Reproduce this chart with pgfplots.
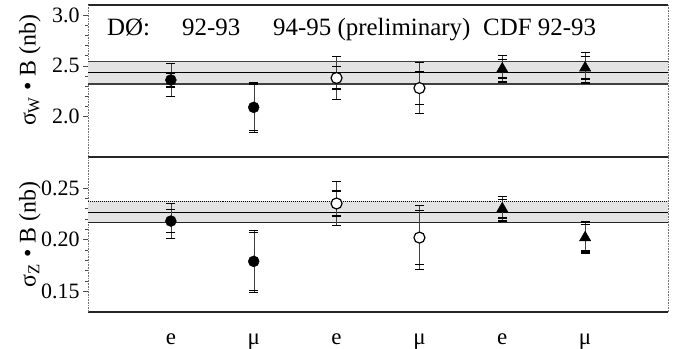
\documentclass[border=0pt]{standalone}
\usepackage{pgfplots}
\pgfplotsset{compat=1.18}
\usepackage{fontspec}
\setmainfont{Liberation Serif}
\begin{document}
\begin{tikzpicture}
\useasboundingbox (0bp,0bp) rectangle (686bp,-349bp);
\pgfplotsset{
  panel/.style={
    scale only axis, width=580bp, xmin=0, xmax=7,
    separate axis lines,
    x axis line style={line width=1.1pt, black!85},
    y axis line style={densely dotted, black!55, line width=0.6pt},
    ytick pos=left, tick align=outside,
    major tick length=5bp, minor tick length=3bp,
    minor y tick num=4,
    ytick style={black!70, line width=0.6pt},
    xtick={1,2,3,4,5,6}, xtick style={draw=none},
    tick label style={font=\fontsize{22}{22}\selectfont},
    /pgf/number format/assume math mode=true,
    ylabel style={font=\fontsize{24}{24}\selectfont, anchor=center},
  },
  band/.style={draw=none, fill=black!11, forget plot},
  outerr/.style={black, line width=0.4pt, only marks, mark=*, mark size=0.1pt,
    mark options={draw=none, fill=none},
    error bars/.cd, y dir=both, y explicit, error mark=|,
    error bar style={line width=0.4pt, black!75},
    error mark options={draw=black, mark size=4.5bp, line width=1.3pt}},
  fillc/.style={only marks, mark=*, mark size=5.5bp, mark options={fill=black, draw=black}},
  openc/.style={only marks, mark=*, mark size=5.5bp, mark options={fill=white, draw=black, line width=1.2pt}},
  tri/.style={only marks, mark=triangle*, mark size=6.5bp, mark options={fill=black, draw=black}},
}
% ---------------- top panel: sigma_W * B
\begin{axis}[panel, at={(88bp,-5bp)}, anchor=north west, height=152bp,
  ymin=1.6, ymax=3.1, ytick={2.0,2.5,3.0},
  yticklabel style={/pgf/number format/.cd, fixed, fixed zerofill, precision=1},
  xticklabels={},
  ylabel={σ\textsubscript{W} • B (nb)},
  ylabel style={at={(rel axis cs:-0.10,0.57)}}]
\addplot[band] coordinates {(0,2.32) (7,2.32) (7,2.545) (0,2.545)} -- cycle;
\addplot[black!75, line width=0.6pt] coordinates {(0,2.545) (7,2.545)};
\addplot[black, line width=1.2pt] coordinates {(0,2.43) (7,2.43)};
\addplot[black!75, line width=1.3pt] coordinates {(0,2.32) (7,2.32)};
% outer (total) errors
\addplot[outerr] coordinates {(1,2.36) +- (0,0.16) (2,2.09) +- (0,0.245) (3,2.38) +- (0,0.21)
  (4,2.28) +- (0,0.25) (5,2.47) +- (0,0.13) (6,2.48) +- (0,0.15)};
% inner (statistical) errors
\addplot[outerr] coordinates {(1,2.36) +- (0,0.07) (2,2.09) +- (0,0.23) (3,2.38) +- (0,0.11)
  (4,2.28) +- (0,0.16) (5,2.47) +- (0,0.09) (6,2.48) +- (0,0.11)};
\addplot[fillc] coordinates {(1,2.36) (2,2.09)};
\addplot[openc] coordinates {(3,2.38) (4,2.28)};
\addplot[tri] coordinates {(5,2.47) (6,2.48)};
\node[anchor=base west, font=\fontsize{25}{25}\selectfont, inner sep=0pt] at (axis cs:0.229,2.80) {DØ:};
\node[anchor=base west, font=\fontsize{25}{25}\selectfont, inner sep=0pt] at (axis cs:1.134,2.80) {92-93};
\node[anchor=base west, font=\fontsize{25}{25}\selectfont, inner sep=0pt] at (axis cs:2.233,2.80) {94-95 (preliminary)};
\node[anchor=base west, font=\fontsize{25}{25}\selectfont, inner sep=0pt] at (axis cs:4.767,2.80) {CDF 92-93};
\end{axis}
% ---------------- bottom panel: sigma_Z * B
\begin{axis}[panel, at={(88bp,-157bp)}, anchor=north west, height=155bp,
  ymin=0.13, ymax=0.28, ytick={0.15,0.20,0.25},
  yticklabel style={/pgf/number format/.cd, fixed, fixed zerofill, precision=2},
  xticklabels={e,μ,e,μ,e,μ},
  xticklabel style={font=\fontsize{23}{23}\selectfont, anchor=base, yshift=-27bp},
  ylabel={σ\textsubscript{Z} • B (nb)},
  ylabel style={at={(rel axis cs:-0.10,0.5)}}]
\addplot[band] coordinates {(0,0.217) (7,0.217) (7,0.237) (0,0.237)} -- cycle;
\addplot[black, line width=1.0pt, densely dotted] coordinates {(0,0.237) (7,0.237)};
\addplot[black, line width=1.2pt] coordinates {(0,0.226) (7,0.226)};
\addplot[black!85, line width=1.2pt] coordinates {(0,0.217) (7,0.217)};
\addplot[outerr] coordinates {(1,0.218) +- (0,0.017) (2,0.179) +- (0,0.030) (3,0.235) +- (0,0.021)
  (4,0.202) +- (0,0.031) (5,0.230) +- (0,0.012) (6,0.202) +- (0,0.015)};
\addplot[outerr] coordinates {(1,0.218) +- (0,0.011) (2,0.179) +- (0,0.028) (3,0.235) +- (0,0.012)
  (4,0.202) +- (0,0.026) (5,0.230) +- (0,0.009) (6,0.202) +- (0,0.013)};
\addplot[fillc] coordinates {(1,0.218) (2,0.179)};
\addplot[openc] coordinates {(3,0.235) (4,0.202)};
\addplot[tri] coordinates {(5,0.230) (6,0.202)};
\end{axis}
\end{tikzpicture}
\end{document}
